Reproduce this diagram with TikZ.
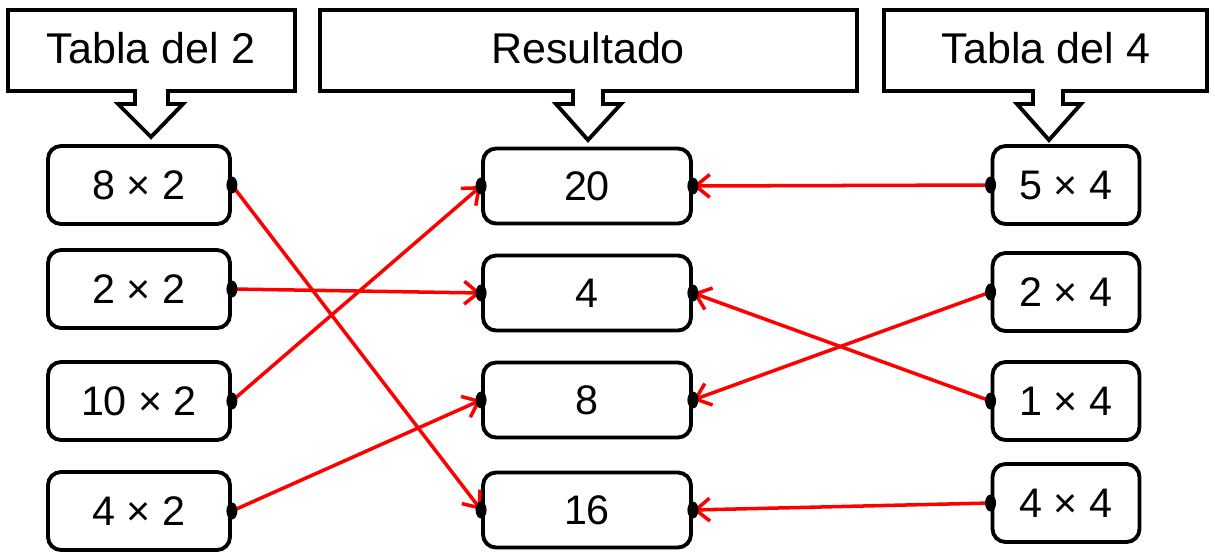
\documentclass[tikz,border=0pt]{standalone}
\usepackage{fontspec}
\setmainfont{Liberation Sans}
\usetikzlibrary{arrows.meta}

\begin{document}
\begin{tikzpicture}[x=0.02cm, y=-0.02cm,
        cell/.style={draw, line width=2.2pt, rounded corners=0.26cm, fill=white, inner sep=0pt,
            minimum height=1.56cm, font=\fontsize{23.5}{28}\selectfont},
        leftcell/.style={cell, minimum width=3.64cm},
        midcell/.style={cell, minimum width=4.16cm, minimum height=1.5cm},
        rightcell/.style={cell, minimum width=2.94cm},
        callout/.style={draw, line width=2.2pt, fill=white, miter limit=4},
        headtext/.style={font=\fontsize{24.5}{29}\selectfont},
        link/.style={red, line width=2pt, -{Straight Barb[length=8pt,width=13pt,line width=2pt]}},
        dot/.style={fill=black}]
    \useasboundingbox (0,0) rectangle (1215,552);

    \draw [callout] (8,10) -- (295,10) -- (295,91) -- (168,91) -- (168,104) -- (183,104) -- (151,137) -- (118,104) -- (135,104) -- (135,91) -- (8,91) -- cycle;
    \draw [callout] (320,10) -- (857,10) -- (857,91) -- (603,91) -- (603,104) -- (621,104) -- (588,140) -- (556,104) -- (573,104) -- (573,91) -- (320,91) -- cycle;
    \draw [callout] (884,10) -- (1207,10) -- (1207,91) -- (1063,91) -- (1063,104) -- (1081,104) -- (1049,140) -- (1017,104) -- (1033,104) -- (1033,91) -- (884,91) -- cycle;
    \node [headtext] (tabla2) at (151,48) {Tabla del 2};
    \node [headtext] (resultado) at (588,48) {Resultado};
    \node [headtext] (tabla4) at (1046,48) {Tabla del 4};

    \node [leftcell] (a1) at (139,185) {8 × 2};
    \node [leftcell] (a2) at (139,289) {2 × 2};
    \node [leftcell] (a3) at (139,401) {10 × 2};
    \node [leftcell] (a4) at (139,511) {4 × 2};

    \node [midcell] (r1) at (587,186) {20};
    \node [midcell] (r2) at (587,293) {4};
    \node [midcell] (r3) at (587,400) {8};
    \node [midcell] (r4) at (587,510) {16};

    \node [rightcell] (b1) at (1066,185) {5 × 4};
    \node [rightcell] (b2) at (1066,292) {2 × 4};
    \node [rightcell] (b3) at (1066,401) {1 × 4};
    \node [rightcell] (b4) at (1066,503) {4 × 4};

    \draw [link] (a1.east) -- (r4.west);
    \draw [link] (a2.east) -- (r2.west);
    \draw [link] (a3.east) -- (r1.west);
    \draw [link] (a4.east) -- (r3.west);
    \draw [link] (b1.west) -- (r1.east);
    \draw [link] (b2.west) -- (r3.east);
    \draw [link] (b3.west) -- (r2.east);
    \draw [link] (b4.west) -- (r4.east);

    \foreach \n in {a1,a2,a3,a4} \fill [dot] (\n.east) ellipse [x radius=0.11cm, y radius=0.17cm];
    \foreach \n in {r1,r2,r3,r4} {
        \fill [dot] (\n.west) ellipse [x radius=0.11cm, y radius=0.17cm];
        \fill [dot] (\n.east) ellipse [x radius=0.11cm, y radius=0.17cm];
    }
    \foreach \n in {b1,b2,b3,b4} \fill [dot] (\n.west) ellipse [x radius=0.11cm, y radius=0.17cm];
\end{tikzpicture}
\end{document}
